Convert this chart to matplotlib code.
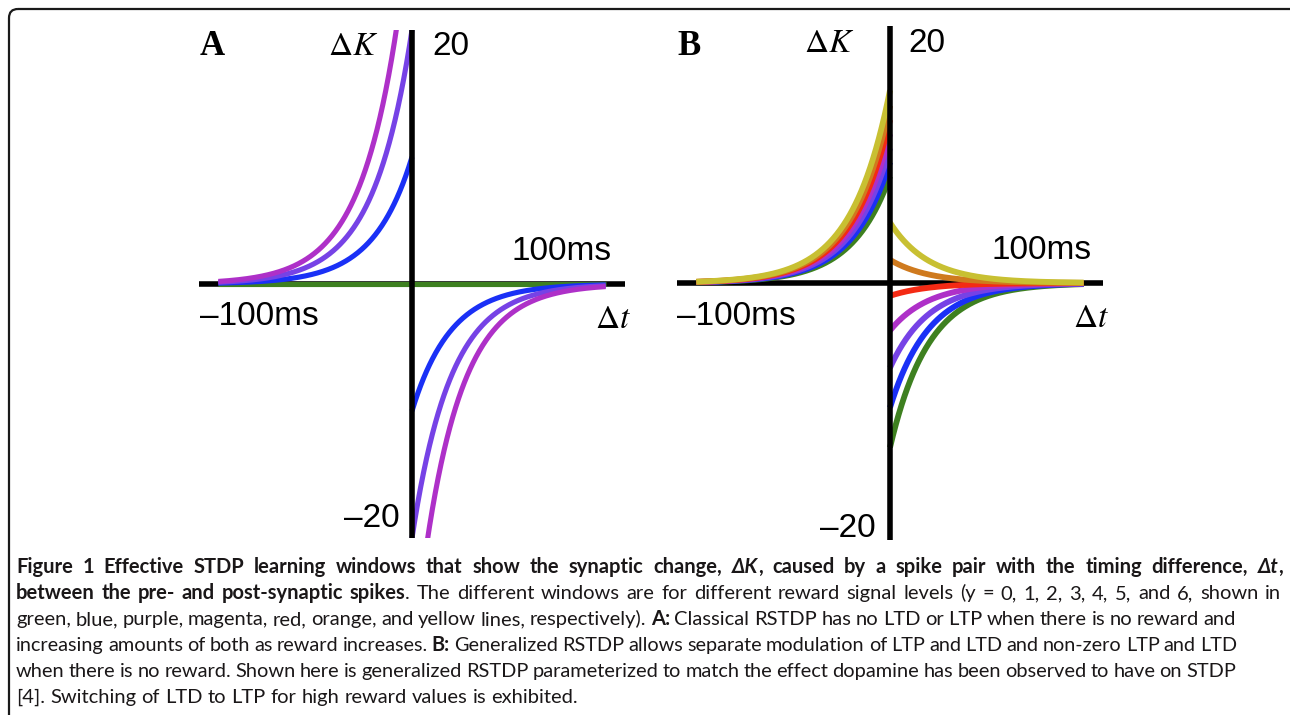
import numpy as np
import matplotlib
matplotlib.use('Agg')
import matplotlib.pyplot as plt
from matplotlib.patches import FancyBboxPatch

W, H = 1290, 715

# reward levels y = 0..6, one colour each (green .. yellow)
reward_levels = [0, 1, 2, 3, 4, 5, 6]
level_colors = ['#3e8020', '#1a30f6', '#7642e6', '#ae30c8', '#f42a14', '#cf7a1e', '#c8c032']

# window amplitude at dt = 0 (LTP side dt<0, LTD side dt>0)
# A: classical RSTDP, only y = 0..3 are on screen
a_ltp = [0, 10, 20, 30]
a_ltd = [0, -10, -20, -30]
# B: generalized RSTDP
b_ltp = [8.3, 9.4, 10.5, 11.6, 12.7, 13.8, 15.0]
b_ltd = [-12.8, -9.7, -6.6, -3.7, -1.0, 1.8, 4.7]
tau_ms = 20

caption_lines = [
    [("Figure 1 Effective STDP learning windows that show the synaptic change, ", 'b'),
     ("ΔK", 'bi'), (", caused by a spike pair with the timing difference, ", 'b'),
     ("Δt", 'bi'), (",", 'b')],
    [("between the pre- and post-synaptic spikes", 'b'),
     (". The different windows are for different reward signal levels (y = 0, 1, 2, 3, 4, 5, and 6, shown in", 'r')],
    [("green, blue, purple, magenta, red, orange, and yellow lines, respectively). ", 'r'),
     ("A:", 'b'), (" Classical RSTDP has no LTD or LTP when there is no reward and", 'r')],
    [("increasing amounts of both as reward increases. ", 'r'), ("B:", 'b'),
     (" Generalized RSTDP allows separate modulation of LTP and LTD and non-zero LTP and LTD", 'r')],
    [("when there is no reward. Shown here is generalized RSTDP parameterized to match the effect dopamine has been observed to have on STDP", 'r')],
    [("[4]. Switching of LTD to LTP for high reward values is exhibited.", 'r')],
]
# right end of each caption line in the picture (None = ragged)
caption_right = [1283, 1281, 1236, 1237, 1236, None]

fig = plt.figure(figsize=(W / 100, H / 100), dpi=100)
fig.patch.set_facecolor('white')

# background axes in pixel units, only used for the rounded frame
bg = fig.add_axes([0, 0, 1, 1], zorder=-1)
bg.set_xlim(0, W)
bg.set_ylim(H, 0)
bg.axis('off')
bg.add_patch(FancyBboxPatch((9, 9), 1300, 760, boxstyle='round,pad=0,rounding_size=9',
                            fill=False, lw=1.6, ec='#1a1a1a'))


def fx(x):
    return x / W


def fy(y):
    return 1 - y / H


def make_panel(left, top, right, bottom):
    ax = fig.add_axes([fx(left), fy(bottom), (right - left) / W, (bottom - top) / H])
    ax.set_xlim(-110, 110)
    ax.set_ylim(-20, 20)
    ax.axis('off')
    ax.axhline(0, color='black', lw=4, zorder=1, solid_capstyle='butt')
    ax.axvline(0, color='black', lw=4, zorder=3, solid_capstyle='butt')
    return ax


dt_pre = np.linspace(-100, 0, 400)
dt_post = np.linspace(0, 100, 400)


def draw_windows(ax, ltp, ltd, lw):
    for amp_p, amp_d, col in zip(ltp, ltd, level_colors):
        ax.plot(dt_pre, amp_p * np.exp(dt_pre / tau_ms), color=col, lw=lw,
                solid_capstyle='butt', zorder=2)
        ax.plot(dt_post, amp_d * np.exp(-dt_post / tau_ms), color=col, lw=lw,
                solid_capstyle='butt', zorder=2)


ax_a = make_panel(199, 30, 625, 538)
draw_windows(ax_a, a_ltp, a_ltd, 3.7)
ax_b = make_panel(677, 26, 1103, 540)
draw_windows(ax_b, b_ltp, b_ltd, 4.2)

plt.rcParams['mathtext.fontset'] = 'stix'
serif = 'Liberation Serif'
sans = 'Liberation Sans'


def label(x, y, s, family=sans, size=24, **kw):
    fig.text(fx(x), fy(y), s, family=family, fontsize=size, ha='left', va='baseline', **kw)


for dx, dy, letter in [(0, 0, 'A'), (477, 0, 'B')]:
    label(200 + dx, 55, letter, family=serif, size=25, fontweight='bold')
label(328, 55, r'$\Delta K$')
label(432, 55, '20')
label(512, 260, '100ms')
label(200, 325, '\u2013100ms')
label(595, 328, r'$\Delta t$')
label(344, 527, '\u201320')

label(804, 52, r'$\Delta K$')
label(908, 52, '20')
label(992, 259, '100ms')
label(677, 325, '\u2013100ms')
label(1073, 327, r'$\Delta t$')
label(820, 537, '\u201320')

# caption, justified word by word
cap_font = ['Lato', 'DejaVu Sans']
cap_color = '#1a1718'
cap_size = 14.5
cap_left = 16
cap_base, cap_step = 573, 26.0
style_map = {'r': ('normal', 'normal'), 'b': ('bold', 'normal'), 'bi': ('bold', 'italic')}


def split_words(segments):
    words = [[]]
    for text, style in segments:
        parts = text.split(' ')
        for i, p in enumerate(parts):
            if i > 0:
                words.append([])
            if p:
                words[-1].append((p, style))
    return [w for w in words if w]


renderer = fig.canvas.get_renderer()


def width(t):
    return t.get_window_extent(renderer).width


def space_width(size):
    t1 = fig.text(0, 0, 'n n', family=cap_font, fontsize=size)
    t2 = fig.text(0, 0, 'nn', family=cap_font, fontsize=size)
    sp = width(t1) - width(t2)
    t1.remove()
    t2.remove()
    return sp


for li, (segs, right) in enumerate(zip(caption_lines, caption_right)):
    size = cap_size
    row = []
    for word in split_words(segs):
        row.append([fig.text(0, 0, s, family=cap_font, fontweight=style_map[st][0],
                             fontstyle=style_map[st][1], fontsize=size, color=cap_color,
                             ha='left', va='baseline') for s, st in word])
    # a line that is too long for its edge gets a slightly smaller font
    if right is not None:
        for _ in range(3):
            sp = space_width(size)
            nat = sum(width(t) for w in row for t in w) + 0.8 * sp * (len(row) - 1)
            if nat <= right - cap_left:
                break
            size *= (right - cap_left) / nat * 0.998
            for w in row:
                for t in w:
                    t.set_fontsize(size)
    sp = space_width(size)
    wws = [sum(width(t) for t in w) for w in row]
    gap = sp if right is None else (right - cap_left - sum(wws)) / (len(row) - 1)
    x = cap_left
    y = cap_base + li * cap_step
    for w, ww in zip(row, wws):
        xx = x
        for t in w:
            t.set_position((fx(xx), fy(y)))
            xx += width(t)
        x += ww + gap

fig.savefig('out.png', dpi=100, facecolor='white')
